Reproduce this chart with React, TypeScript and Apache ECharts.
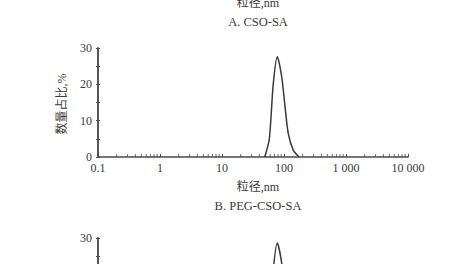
import React, { useEffect, useRef } from "react";
import * as echarts from "echarts";

// Particle size (nm) vs number percentage (%)
const sizesB = [49, 58, 67, 78, 92, 104, 117, 141, 175];
const percentB = [0, 5, 20, 27.6, 22, 13.8, 6.5, 1.9, 0];
const sizesC = [49, 58, 67, 78, 92, 104, 117, 141, 175];
const percentC = [0, 5.5, 21, 28.6, 23, 14, 6.5, 2, 0];

const xTickLabels = ["0.1", "1", "10", "100", "1 000", "10 000"];
const minorTickValues = [
  0.2, 0.3, 0.4, 0.5, 0.6, 0.7, 0.8, 0.9,
  2, 3, 4, 5, 6, 7, 8, 9,
  20, 30, 40, 50, 60, 70, 80, 90,
  200, 300, 400, 500, 600, 700, 800, 900,
  2000, 3000, 4000, 5000, 6000, 7000, 8000, 9000,
];

const xAxisName = "粒径,nm";
const yAxisName = "数量占比,%";
const titleA = "A. CSO-SA";
const titleB = "B. PEG-CSO-SA";

const FONT = "'Liberation Serif', 'Noto Sans CJK SC', serif";
const TEXT = "#3a3a3a";
const AXIS = "#4a4a4a";

export default function App() {
  const ref = useRef<HTMLDivElement>(null);
  useEffect(() => {
    if (!ref.current) return;
    const chart = echarts.init(ref.current, undefined, { renderer: "svg" });

    const xAxisBase = (gridIndex: number) => ({
      type: "log",
      logBase: 10,
      gridIndex,
      min: 0.1,
      max: 10000,
      position: "bottom",
      axisLine: { show: true, lineStyle: { color: AXIS, width: 1.5 } },
      axisTick: { show: true, inside: true, length: 3, lineStyle: { color: AXIS } },
      splitLine: { show: false },
      axisLabel: {
        show: true,
        margin: 5,
        color: TEXT,
        fontFamily: FONT,
        fontSize: 12,
        formatter: (v: number) => xTickLabels[Math.round(Math.log10(v)) + 1] ?? "",
      },
    });

    const yAxisBase = (gridIndex: number, inside: boolean, showLabel: boolean) => ({
      type: "value",
      gridIndex,
      position: "left",
      min: 0,
      max: 30,
      interval: 10,
      axisLine: { show: true, lineStyle: { color: AXIS, width: 1.5 } },
      axisTick: { show: true, inside, length: 2, lineStyle: { color: AXIS } },
      minorTick: { show: true, splitNumber: 2, length: 2, lineStyle: { color: AXIS } },
      splitLine: { show: false },
      axisLabel: {
        show: showLabel,
        margin: 6,
        color: TEXT,
        fontFamily: FONT,
        fontSize: 12,
      },
    });

    const minorData = minorTickValues.map((v) => [v, 0]);

    chart.setOption({
      animation: false,
      backgroundColor: "#ffffff",
      grid: [
        { left: 98, top: 48, width: 310, height: 109, containLabel: false, outerBoundsMode: "none" },
        { left: 98, top: 238, width: 310, height: 109, containLabel: false, outerBoundsMode: "none" },
      ],
      xAxis: [xAxisBase(0), xAxisBase(1)],
      yAxis: [
        yAxisBase(0, false, true),
        yAxisBase(1, false, true),
        yAxisBase(0, true, false),
        yAxisBase(1, true, false),
      ],
      series: [
        {
          type: "line",
          xAxisIndex: 0,
          yAxisIndex: 0,
          data: sizesB.map((s, i) => [s, percentB[i]]),
          showSymbol: false,
          symbol: "none",
          smooth: 0.25,
          lineStyle: { color: "#3a3a3a", width: 1.5 },
          z: 3,
        },
        {
          type: "line",
          xAxisIndex: 1,
          yAxisIndex: 1,
          data: sizesC.map((s, i) => [s, percentC[i]]),
          showSymbol: false,
          symbol: "none",
          smooth: 0.25,
          lineStyle: { color: "#3a3a3a", width: 1.5 },
          z: 3,
        },
        {
          type: "scatter",
          xAxisIndex: 0,
          yAxisIndex: 0,
          data: minorData,
          symbol: "rect",
          symbolSize: [1, 3],
          symbolOffset: [0, -1.5],
          itemStyle: { color: AXIS },
          clip: false,
          silent: true,
        },
      ],
      graphic: [
        {
          type: "text",
          x: 258,
          y: 3,
          style: { text: xAxisName, align: "center", verticalAlign: "middle", fill: TEXT, fontFamily: FONT, fontSize: 12 },
        },
        {
          type: "text",
          x: 258,
          y: 22,
          style: { text: titleA, align: "center", verticalAlign: "middle", fill: TEXT, fontFamily: FONT, fontSize: 12.5 },
        },
        {
          type: "text",
          x: 258,
          y: 187,
          style: { text: xAxisName, align: "center", verticalAlign: "middle", fill: TEXT, fontFamily: FONT, fontSize: 12 },
        },
        {
          type: "text",
          x: 258,
          y: 206,
          style: { text: titleB, align: "center", verticalAlign: "middle", fill: TEXT, fontFamily: FONT, fontSize: 12.5 },
        },
        {
          type: "text",
          x: 62,
          y: 104,
          rotation: Math.PI / 2,
          style: { text: yAxisName, align: "center", verticalAlign: "middle", fill: TEXT, fontFamily: FONT, fontSize: 12 },
        },
        {
          type: "text",
          x: 62,
          y: 294,
          rotation: Math.PI / 2,
          style: { text: yAxisName, align: "center", verticalAlign: "middle", fill: TEXT, fontFamily: FONT, fontSize: 12 },
        },
      ],
    });
    return () => chart.dispose();
  }, []);

  return (
    <div
      ref={ref}
      style={{ position: "fixed", left: 0, top: 0, width: 468, height: 264, background: "#fff" }}
    />
  );
}
